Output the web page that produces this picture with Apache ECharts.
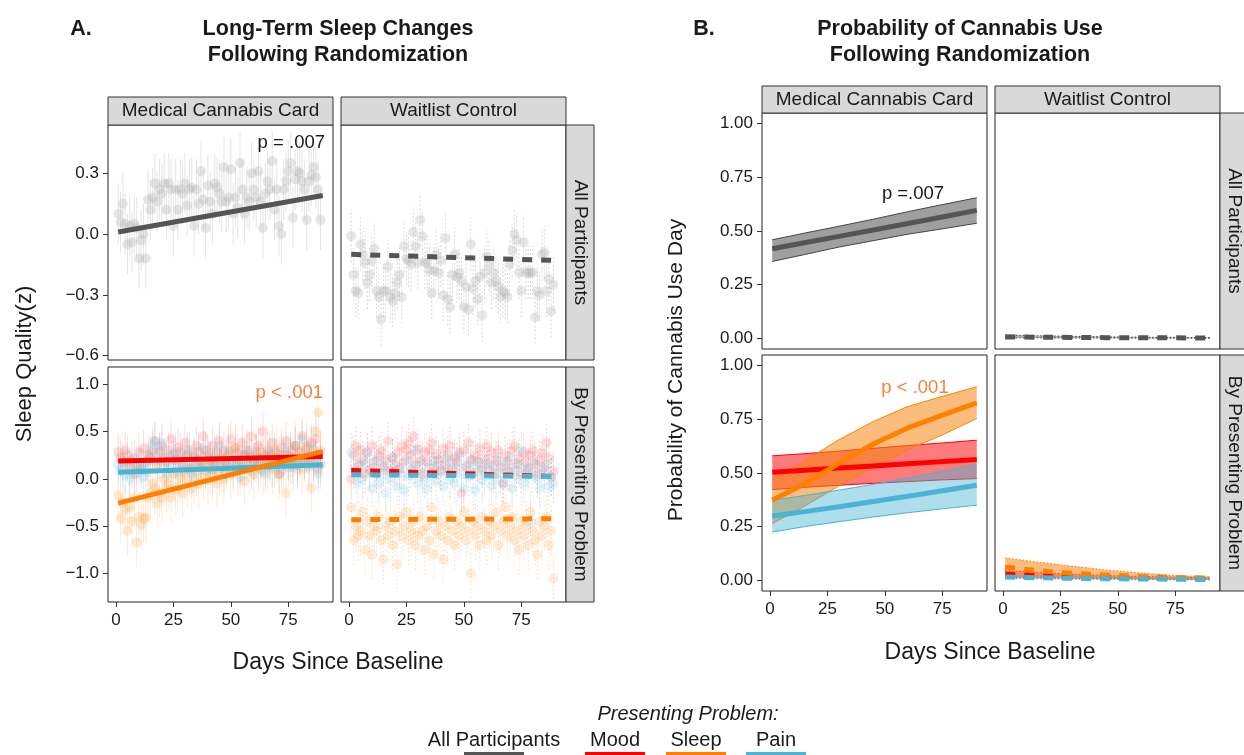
<!DOCTYPE html>
<html><head><meta charset="utf-8">
<script src="https://cdn.jsdelivr.net/npm/echarts@6/dist/echarts.min.js"></script>
<style>html,body{margin:0;padding:0;background:#fff}#c{width:1244px;height:755px}</style>
</head><body><div id="c"></div><script>
// ---------------- DATA ----------------
const xTicks = [0, 25, 50, 75];
const yTicksSleepAll = [-0.6, -0.3, 0, 0.3];
const yTicksSleepBy = [-1.0, -0.5, 0, 0.5, 1.0];
const yTicksProb = [0, 0.25, 0.5, 0.75, 1.0];

// Panel A daily means (day 1..89)
const mccAll = [0.10,0.06,0.15,0.05,-0.05,0.04,-0.04,0.05,0.03,-0.12,
 -0.03,0.00,-0.12,0.17,0.12,0.18,0.25,0.16,0.22,0.20,
 0.25,0.12,0.25,0.22,0.04,0.22,0.12,0.22,0.20,0.25,
 0.14,0.22,0.23,0.04,0.22,0.15,0.31,0.17,0.03,0.24,
 0.16,0.10,0.25,0.23,0.20,0.16,0.33,0.16,0.18,0.32,
 0.10,0.18,0.13,0.35,0.22,0.10,0.18,0.16,0.30,0.22,
 0.18,0.31,0.16,0.03,0.20,0.26,0.22,0.36,0.12,0.22,
 0.04,0.00,0.22,0.26,0.31,0.35,0.08,0.27,0.31,0.30,
 0.26,0.22,0.07,0.26,0.29,0.33,0.28,0.22,0.07];
const wlAll = [-0.01,-0.20,-0.28,-0.29,-0.05,-0.10,-0.14,-0.24,-0.20,-0.13,
 -0.07,-0.28,-0.31,-0.42,-0.28,-0.28,-0.16,-0.31,-0.33,-0.29,
 -0.24,-0.20,-0.31,-0.06,-0.12,-0.13,-0.15,0.01,-0.06,-0.14,
 0.07,-0.01,-0.14,-0.14,-0.18,-0.29,-0.18,-0.10,-0.19,-0.13,
 -0.30,-0.02,-0.32,-0.36,-0.20,-0.10,-0.21,-0.19,-0.23,-0.36,
 -0.26,-0.37,-0.05,-0.27,-0.23,-0.32,-0.21,-0.40,-0.19,-0.11,
 -0.15,-0.24,-0.19,-0.23,-0.26,-0.31,-0.28,-0.29,-0.31,-0.15,
 -0.08,0.00,-0.03,-0.19,-0.28,-0.04,-0.19,-0.19,-0.19,-0.19,
 -0.41,-0.28,-0.30,-0.10,-0.09,-0.28,-0.22,-0.38,-0.25];
const mccMood = [0.28,0.22,0.18,0.30,0.25,0.12,0.20,0.05,0.15,0.28,
 0.10,0.32,0.18,0.25,0.22,0.30,0.40,0.15,0.28,0.35,
 0.22,0.18,0.30,0.42,0.25,0.20,0.33,0.28,0.15,0.38,
 0.25,0.30,0.12,0.22,0.35,0.28,0.18,0.45,0.30,0.25,
 0.20,0.35,0.15,0.28,0.40,0.22,0.30,0.18,0.25,0.42,
 0.20,0.33,0.28,0.12,0.38,0.25,0.30,0.22,0.45,0.18,
 0.28,0.35,0.20,0.50,0.25,0.30,0.15,0.38,0.28,0.22,
 0.05,0.33,0.25,0.40,0.18,0.30,0.22,0.35,0.15,0.28,
 0.45,0.20,0.32,0.25,0.38,0.18,0.42,0.10,0.30];
const mccSleep = [-0.17,-0.42,-0.25,-0.33,-0.55,-0.30,-0.45,-0.20,-0.67,-0.40,
 -0.49,-0.42,-0.41,-0.20,-0.15,-0.05,-0.10,-0.25,-0.15,-0.20,
 0.00,-0.10,-0.05,-0.20,0.05,-0.12,-0.08,0.02,-0.15,0.05,
 -0.05,0.10,-0.10,0.00,0.08,-0.05,0.12,0.02,0.15,-0.02,
 0.10,0.05,0.18,-0.05,0.08,0.12,0.00,0.15,0.30,0.05,
 0.10,0.32,0.08,0.20,0.15,-0.02,0.25,0.10,0.18,0.05,
 0.22,0.12,0.28,0.08,0.20,0.15,0.25,0.10,0.18,0.30,
 0.05,0.22,0.15,-0.15,0.25,0.20,0.12,0.35,0.18,0.28,
 0.10,0.22,0.35,0.15,-0.10,0.30,0.50,0.70,0.15];
const mccPain = [0.15,0.08,0.12,0.05,0.18,0.00,0.10,0.22,0.05,0.12,
 0.15,0.02,0.08,0.18,0.25,0.35,0.40,0.20,0.30,0.38,
 0.15,0.05,0.25,0.12,0.20,0.28,0.08,0.15,0.22,0.10,
 0.30,0.18,0.05,0.25,0.12,0.20,0.15,0.32,0.08,0.22,
 0.18,0.10,0.25,0.15,0.35,0.20,0.05,0.12,0.28,0.18,
 0.10,0.22,0.15,0.02,0.25,0.12,0.20,0.30,0.08,0.18,
 0.25,0.15,0.10,0.22,0.05,0.18,0.28,0.12,0.20,0.15,
 0.25,0.08,0.18,0.30,0.12,0.22,0.15,0.35,0.10,0.20,
 0.42,0.18,0.25,0.12,0.35,0.15,0.22,0.05,0.15];
const wlMood = [0.00,0.25,0.35,0.15,0.30,0.20,0.05,0.28,0.10,0.35,
 0.18,0.05,0.25,0.30,0.12,0.20,0.40,0.08,0.22,0.15,
 0.28,0.10,0.35,0.18,0.30,0.38,0.25,0.45,0.15,0.32,
 0.20,0.05,0.28,0.18,0.30,0.38,0.12,0.25,0.20,0.08,
 0.32,0.15,0.25,0.35,0.10,0.22,0.18,0.28,-0.15,0.30,
 0.12,0.38,0.20,0.05,0.25,0.18,0.32,0.10,0.22,0.35,
 0.15,0.28,0.05,0.20,0.30,0.12,-0.05,0.25,0.18,0.08,
 0.30,0.35,0.15,0.22,0.05,0.28,0.18,0.10,0.25,0.30,
 0.15,0.05,0.20,0.28,0.12,0.38,0.22,0.02,0.08];
const wlSleep = [-0.30,-0.65,-0.50,-0.60,-0.55,-0.35,-0.75,-0.45,-0.60,-0.80,
 -0.50,-0.55,-0.40,-0.65,-0.85,-0.50,-0.60,-0.45,-0.70,-0.55,
 -0.90,-0.40,-0.60,-0.50,-0.35,-0.65,-0.55,-0.45,-0.70,-0.60,
 -0.40,-0.55,-0.75,-0.50,-0.65,-0.30,-0.80,-0.55,-0.45,-0.60,
 -0.85,-0.50,-0.65,-0.40,-0.55,-0.70,-0.45,-0.60,-0.50,-0.35,
 -0.65,-0.55,-1.00,-0.45,-0.60,-0.50,-0.70,-0.40,-0.55,-0.65,
 -0.45,-0.60,-0.50,-0.35,-0.70,-0.55,-0.45,-0.30,-0.60,-0.50,
 -0.40,-0.65,-0.55,-0.75,-0.45,-0.60,-0.50,-0.70,-0.35,-0.55,
 -0.65,-0.80,-0.45,-0.60,-0.50,-0.40,-0.70,-0.55,-1.05];
const wlPain = [0.28,0.10,0.05,-0.05,0.15,0.00,0.18,0.28,0.08,-0.10,
 0.12,0.20,-0.05,0.05,0.15,-0.15,0.10,0.00,0.22,0.08,
 -0.08,0.12,0.05,-0.12,0.20,0.02,0.10,0.15,0.30,-0.05,
 0.08,0.18,0.00,-0.10,0.12,0.05,0.20,-0.02,0.15,0.08,
 -0.08,0.22,0.10,0.00,0.18,-0.05,0.12,0.25,0.05,-0.10,
 0.15,0.02,0.10,0.20,-0.12,0.08,0.15,-0.02,0.05,0.18,
 0.10,-0.08,0.12,0.00,0.20,0.05,-0.05,0.15,0.08,0.22,
 -0.10,0.10,0.02,0.15,0.30,-0.05,0.08,0.12,-0.45,0.05,
 0.18,0.00,-0.10,0.10,0.05,0.15,-0.08,0.02,-0.05];
// error bar half-widths
const errMccAll = 0.15, errWlAll = 0.13, errMood = 0.2, errSleep = 0.26, errPain = 0.2;

// Panel A fitted lines (start/end day)
const fitDays = [1, 90];
const fitMccAll = [0.01, 0.19];
const fitWlAll = [-0.10, -0.13];
const fitMccMood = [0.19, 0.235];
const fitMccSleep = [-0.255, 0.29];
const fitMccPain = [0.07, 0.15];
const fitWlMood = [0.09, 0.025];
const fitWlSleep = [-0.43, -0.42];
const fitWlPain = [0.045, 0.025];

// Panel B predicted probabilities
const probDays = [1, 15, 30, 45, 60, 75, 90];
const pMccAllFit = [0.417, 0.445, 0.475, 0.505, 0.535, 0.565, 0.596];
const pMccAllLo  = [0.358, 0.390, 0.425, 0.455, 0.485, 0.510, 0.536];
const pMccAllHi  = [0.459, 0.490, 0.522, 0.555, 0.590, 0.623, 0.655];
const pWlAllFit = [0.006, 0.005, 0.004, 0.003, 0.002, 0.002, 0.001];
const pWlAllLo  = [0.002, 0.0015, 0.001, 0.001, 0.0005, 0.0005, 0.0003];
const pWlAllHi  = [0.016, 0.012, 0.009, 0.007, 0.005, 0.004, 0.003];
const pMccMoodFit = [0.504, 0.513, 0.523, 0.533, 0.543, 0.553, 0.563];
const pMccMoodLo  = [0.423, 0.433, 0.443, 0.452, 0.460, 0.468, 0.474];
const pMccMoodHi  = [0.580, 0.590, 0.602, 0.615, 0.628, 0.640, 0.653];
const pMccSleepFit = [0.373, 0.450, 0.545, 0.635, 0.710, 0.770, 0.827];
const pMccSleepLo  = [0.264, 0.345, 0.440, 0.525, 0.610, 0.677, 0.754];
const pMccSleepHi  = [0.470, 0.555, 0.655, 0.740, 0.810, 0.857, 0.902];
const pMccPainFit = [0.300, 0.320, 0.343, 0.367, 0.392, 0.417, 0.443];
const pMccPainLo  = [0.225, 0.250, 0.273, 0.295, 0.315, 0.333, 0.350];
const pMccPainHi  = [0.373, 0.395, 0.420, 0.447, 0.477, 0.508, 0.540];
const pWlMoodFit = [0.028, 0.022, 0.017, 0.013, 0.010, 0.008, 0.006];
const pWlMoodLo  = [0.015, 0.012, 0.009, 0.007, 0.005, 0.004, 0.003];
const pWlMoodHi  = [0.045, 0.036, 0.028, 0.022, 0.018, 0.015, 0.012];
const pWlSleepFit = [0.062, 0.045, 0.032, 0.024, 0.018, 0.013, 0.010];
const pWlSleepLo  = [0.030, 0.022, 0.016, 0.012, 0.009, 0.007, 0.005];
const pWlSleepHi  = [0.104, 0.085, 0.066, 0.048, 0.034, 0.022, 0.016];
const pWlPainFit = [0.015, 0.012, 0.009, 0.007, 0.006, 0.005, 0.004];
const pWlPainLo  = [0.008, 0.006, 0.005, 0.004, 0.003, 0.002, 0.002];
const pWlPainHi  = [0.025, 0.020, 0.016, 0.013, 0.010, 0.008, 0.007];

// ---------------- STYLE ----------------
const FONT = "'Liberation Sans', Arial, Helvetica, sans-serif";
const GRAY = '#555555', RED = '#ff0000', ORANGE = '#ff8000', BLUE = '#4bb3d3';
const TXT = '#1a1a1a';

const grids = [
  {left:108, top:125, width:225, height:235},
  {left:341, top:125, width:225, height:235},
  {left:108, top:367, width:225, height:235},
  {left:341, top:367, width:225, height:235},
  {left:762, top:113, width:225, height:236},
  {left:995, top:113, width:225, height:236},
  {left:762, top:355, width:225, height:236},
  {left:995, top:355, width:225, height:236}
].map(g => Object.assign({show:true, borderColor:'#222', borderWidth:1, backgroundColor:'#fff', containLabel:false, outerBoundsMode:'none'}, g));

const yCfgs = [
  {min:-0.621, max:0.538, ticks:yTicksSleepAll, dec:1, show:true},
  {min:-0.621, max:0.538, ticks:yTicksSleepAll, dec:1, show:false},
  {min:-1.298, max:1.18, ticks:yTicksSleepBy, dec:1, show:true},
  {min:-1.298, max:1.18, ticks:yTicksSleepBy, dec:1, show:false},
  {min:-0.05, max:1.05, ticks:yTicksProb, dec:2, show:true},
  {min:-0.05, max:1.05, ticks:yTicksProb, dec:2, show:false},
  {min:-0.05, max:1.05, ticks:yTicksProb, dec:2, show:true},
  {min:-0.05, max:1.05, ticks:yTicksProb, dec:2, show:false}
];
const xShow = [false, false, true, true, false, false, true, true];

const xAxes = grids.map((g, i) => ({
  type:'value', gridIndex:i, min:-3.45, max:94.45, position:'bottom',
  axisLine:{show:false, onZero:false}, splitLine:{show:false},
  axisTick:{show:xShow[i], inside:false, length:5, lineStyle:{color:'#333'}, customValues:xTicks},
  axisLabel:{show:xShow[i], customValues:xTicks, color:TXT, fontSize:17, fontFamily:FONT, margin:10}
}));
const yAxes = yCfgs.map((c, i) => ({
  type:'value', gridIndex:i, min:c.min, max:c.max, position:'left',
  axisLine:{show:false, onZero:false}, splitLine:{show:false},
  axisTick:{show:c.show, inside:false, length:5, lineStyle:{color:'#333'}, customValues:c.ticks},
  axisLabel:{show:c.show, customValues:c.ticks, color:TXT, fontSize:17, fontFamily:FONT, margin:9,
    formatter: v => Number(v).toFixed(c.dec).replace('-', '\u2212')}
}));

const series = [];
function errBars(gi, vals, err, color, dotted) {
  series.push({
    type:'custom', xAxisIndex:gi, yAxisIndex:gi, silent:true, z:1,
    data: vals.map((v, k) => [k + 1, v - err, v + err]),
    encode:{x:0, y:[1,2]},
    renderItem: (params, api) => {
      const a = api.coord([api.value(0), api.value(1)]);
      const b = api.coord([api.value(0), api.value(2)]);
      return {type:'line', shape:{x1:a[0], y1:a[1], x2:b[0], y2:b[1]},
        style:{stroke:color, lineWidth:1, lineDash: dotted ? [2,2] : null}};
    }
  });
}
function points(gi, vals, color) {
  series.push({type:'scatter', xAxisIndex:gi, yAxisIndex:gi, silent:true, z:2,
    data: vals.map((v, k) => [k + 1, v]), symbolSize:10,
    itemStyle:{color:color}});
}
function fitLine(gi, days, vals, color, dashed, width) {
  series.push({type:'line', xAxisIndex:gi, yAxisIndex:gi, silent:true, z:4,
    data: days.map((d, k) => [d, vals[k]]), showSymbol:false, symbol:'none',
    lineStyle:{color:color, width:width || 5, type: dashed ? [10, 9] : 'solid', cap:'butt'}});
}
function band(gi, days, lo, hi, fill, edge, dotted) {
  const pts = days.map((d, k) => [d, lo[k], hi[k]]);
  series.push({type:'custom', xAxisIndex:gi, yAxisIndex:gi, silent:true, z:3,
    data: pts, encode:{x:0, y:[1,2]},
    renderItem: (params, api) => {
      if (params.dataIndex !== 0) return null;
      const up = pts.map(p => api.coord([p[0], p[2]]));
      const dn = pts.map(p => api.coord([p[0], p[1]]));
      const dash = dotted ? [1.5, 2] : null;
      return {type:'group', children:[
        {type:'polygon', shape:{points: up.concat(dn.slice().reverse())}, style:{fill:fill}},
        {type:'polyline', shape:{points: up}, style:{stroke:edge, lineWidth:1, fill:null, lineDash:dash}},
        {type:'polyline', shape:{points: dn}, style:{stroke:edge, lineWidth:1, fill:null, lineDash:dash}}
      ]};
    }
  });
}

// Panel A
errBars(0, mccAll, errMccAll, 'rgba(160,160,160,0.28)', false);
points(0, mccAll, 'rgba(175,175,175,0.38)');
fitLine(0, fitDays, fitMccAll, GRAY, false);

errBars(1, wlAll, errWlAll, 'rgba(160,160,160,0.4)', true);
points(1, wlAll, 'rgba(175,175,175,0.38)');
fitLine(1, fitDays, fitWlAll, GRAY, true);

errBars(2, mccMood, errMood, 'rgba(255,80,80,0.2)', false);
errBars(2, mccSleep, errSleep, 'rgba(255,150,40,0.2)', false);
errBars(2, mccPain, errPain, 'rgba(75,179,211,0.2)', false);
points(2, mccMood, 'rgba(255,90,90,0.25)');
points(2, mccSleep, 'rgba(255,150,40,0.25)');
points(2, mccPain, 'rgba(110,195,225,0.25)');
fitLine(2, fitDays, fitMccMood, RED, false);
fitLine(2, fitDays, fitMccPain, BLUE, false);
fitLine(2, fitDays, fitMccSleep, ORANGE, false);

errBars(3, wlMood, errMood, 'rgba(255,80,80,0.28)', true);
errBars(3, wlSleep, errSleep, 'rgba(255,150,40,0.28)', true);
errBars(3, wlPain, errPain, 'rgba(75,179,211,0.28)', true);
points(3, wlMood, 'rgba(255,90,90,0.25)');
points(3, wlSleep, 'rgba(255,150,40,0.22)');
points(3, wlPain, 'rgba(110,195,225,0.22)');
fitLine(3, fitDays, fitWlMood, RED, true);
fitLine(3, fitDays, fitWlPain, BLUE, true);
fitLine(3, fitDays, fitWlSleep, ORANGE, true);

// Panel B
band(4, probDays, pMccAllLo, pMccAllHi, 'rgba(80,80,80,0.55)', '#444', false);
fitLine(4, probDays, pMccAllFit, GRAY, false);
band(5, probDays, pWlAllLo, pWlAllHi, 'rgba(80,80,80,0.45)', '#444', true);
fitLine(5, probDays, pWlAllFit, GRAY, true);

band(6, probDays, pMccMoodLo, pMccMoodHi, 'rgba(255,0,0,0.52)', RED, false);
band(6, probDays, pMccSleepLo, pMccSleepHi, 'rgba(245,135,20,0.55)', ORANGE, false);
band(6, probDays, pMccPainLo, pMccPainHi, 'rgba(75,179,211,0.45)', BLUE, false);
fitLine(6, probDays, pMccMoodFit, RED, false);
fitLine(6, probDays, pMccPainFit, BLUE, false);
fitLine(6, probDays, pMccSleepFit, ORANGE, false);

band(7, probDays, pWlMoodLo, pWlMoodHi, 'rgba(255,0,0,0.45)', RED, true);
band(7, probDays, pWlSleepLo, pWlSleepHi, 'rgba(245,135,20,0.55)', ORANGE, true);
band(7, probDays, pWlPainLo, pWlPainHi, 'rgba(75,179,211,0.45)', BLUE, true);
fitLine(7, probDays, pWlMoodFit, RED, true);
fitLine(7, probDays, pWlSleepFit, ORANGE, true);
fitLine(7, probDays, pWlPainFit, BLUE, true);

// ---------------- TEXT / DECORATION ----------------
const graphic = [];
function txt(x, y, text, opt) {
  graphic.push(Object.assign({type:'text', x:x, y:y, z:100,
    style:Object.assign({text:text, fill:TXT, font:'17px ' + FONT, align:'center', verticalAlign:'middle'}, (opt && opt.style) || {})},
    opt && opt.rotation !== undefined ? {rotation: opt.rotation} : {}));
}
function strip(x, y, w, h, label, vertical) {
  graphic.push({type:'rect', z:90, shape:{x:x, y:y, width:w, height:h},
    style:{fill:'#d9d9d9', stroke:'#333', lineWidth:1}});
  if (vertical) txt(x + w / 2, y + h / 2, label, {rotation:-Math.PI / 2, style:{font:'19px ' + FONT}});
  else txt(x + w / 2, y + h / 2, label, {style:{font:'19px ' + FONT}});
}
// A strips
strip(108, 97, 225, 28, 'Medical Cannabis Card');
strip(341, 97, 225, 28, 'Waitlist Control');
strip(566, 125, 28, 235, 'All Participants', true);
strip(566, 367, 28, 235, 'By Presenting Problem', true);
// B strips
strip(762, 86, 225, 27, 'Medical Cannabis Card');
strip(995, 86, 225, 27, 'Waitlist Control');
strip(1220, 113, 28, 236, 'All Participants', true);
strip(1220, 355, 28, 236, 'By Presenting Problem', true);

// titles
const bold = 'bold 21.5px ' + FONT;
txt(81, 29, 'A.', {style:{font:bold}});
txt(338, 29, 'Long-Term Sleep Changes', {style:{font:bold}});
txt(338, 55, 'Following Randomization', {style:{font:bold}});
txt(704, 29, 'B.', {style:{font:bold}});
txt(960, 29, 'Probability of Cannabis Use', {style:{font:bold}});
txt(960, 55, 'Following Randomization', {style:{font:bold}});

// axis titles
const axf = '22px ' + FONT;
txt(25, 364, 'Sleep Quality(z)', {rotation:Math.PI / 2, style:{font:axf}});
txt(338, 663, 'Days Since Baseline', {style:{font:'23px ' + FONT}});
txt(676, 370, 'Probability of Cannabis Use Day', {rotation:Math.PI / 2, style:{font:'21px ' + FONT}});
txt(990, 653, 'Days Since Baseline', {style:{font:'23px ' + FONT}});

// p values
const pf = '18.5px ' + FONT;
txt(325, 143, 'p = .007', {style:{font:pf, align:'right'}});
txt(323, 393, 'p < .001', {style:{font:pf, align:'right', fill:'#f4813f'}});
txt(913, 194, 'p =.007', {style:{font:pf}});
txt(915, 388, 'p < .001', {style:{font:pf, fill:'#f4813f'}});

// legend
const lf = '20px ' + FONT;
txt(688, 714, 'Presenting Problem:', {style:{font:'italic 20px ' + FONT}});
const legLabels = ['All Participants', 'Mood', 'Sleep', 'Pain'];
const legX = [494, 615, 696, 776];
const legColors = [GRAY, RED, ORANGE, BLUE];
legLabels.forEach((l, k) => {
  txt(legX[k], 740, l, {style:{font:lf}});
  graphic.push({type:'rect', z:100, shape:{x:legX[k] - 30, y:752, width:60, height:4}, style:{fill:legColors[k]}});
});

const chart = echarts.init(document.getElementById('c'), null, {renderer:'canvas'});
chart.setOption({
  animation:false, backgroundColor:'#fff',
  grid:grids, xAxis:xAxes, yAxis:yAxes, series:series, graphic:graphic
});
</script></body></html>
